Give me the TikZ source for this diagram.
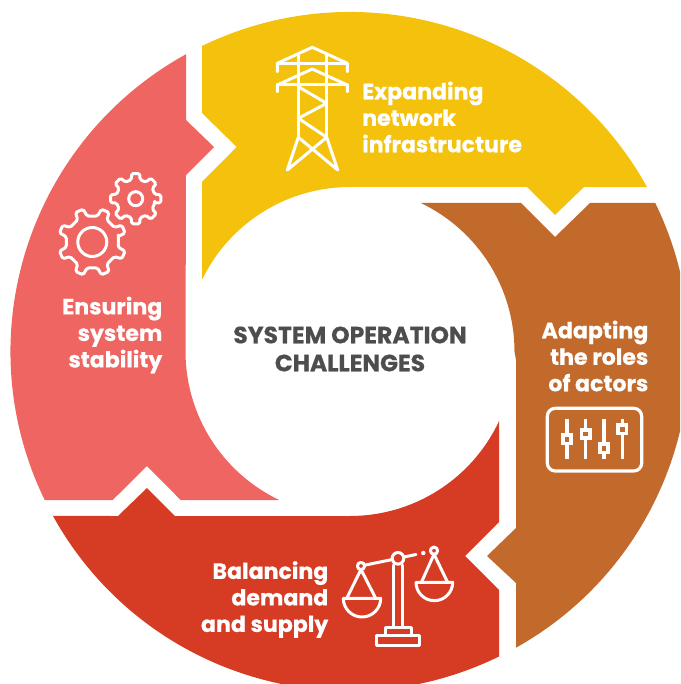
\documentclass[tikz,border=0pt]{standalone}
\usepackage{fontspec}
\setmainfont{Poppins}[BoldFeatures={FakeBold=0.5}]
\definecolor{cyellow}{HTML}{F4C20D}
\definecolor{corange}{HTML}{C26A2C}
\definecolor{cred}{HTML}{D63B24}
\definecolor{cpink}{HTML}{EE6561}
\definecolor{cgray}{HTML}{4D4D4F}
\newcommand{\gearicon}[7]{% cx cy rout rroot n offset halfangle
  \draw[icon,rounded corners=1.6pt] ([shift={(#1,#2)}]#6-#7-4:#4pt)
    \foreach \i in {1,...,#5}{
      -- ([shift={(#1,#2)}]#6+\i*360/#5-360/#5-#7-4:#4pt)
      -- ([shift={(#1,#2)}]#6+\i*360/#5-360/#5-#7:#3pt)
      -- ([shift={(#1,#2)}]#6+\i*360/#5-360/#5+#7:#3pt)
      -- ([shift={(#1,#2)}]#6+\i*360/#5-360/#5+#7+4:#4pt)
    } -- cycle;
}
\begin{document}
\begin{tikzpicture}[x=1pt,y=-1pt,
  icon/.style={draw=white,line width=3pt,line join=round,line cap=round},
  seglabel/.style={text=white,font=\fontsize{22.1}{26.5}\selectfont\bfseries,inner sep=0pt},
  centerlabel/.style={text=cgray,font=\fontsize{23.5}{28}\selectfont\bfseries,inner sep=0pt,align=center}]
\useasboundingbox (0,0) rectangle (680,684);
\clip (0,0) rectangle (680,684);
\coordinate (c) at (350,351.5);
% segments
\fill[cyellow] ([shift={(115.84:339.5pt)}]c) arc[start angle=115.84,end angle=28.98,radius=339.5pt]
  -- (584,187) -- (555,215) -- (527,187) -- (350,187)
  arc[start angle=90,end angle=154.12,radius=164.5pt]
  -- (202,182) -- (236.7,147) -- (202,113) -- cycle;
\fill[corange] (655.3,203) -- (590,203) -- (555,237) -- (521,203) -- (420.8,203)
  arc[start angle=64.5,end angle=0,radius=164.5pt]
  -- (516,360) -- (516,528) -- (487,556) -- (516,583) -- (516,647.7)
  arc[start angle=-60.73,end angle=25.94,radius=339.5pt] -- cycle;
\fill[cred] (499,421.2) -- (499,522) -- (465,556) -- (499,590) -- (499,656.5)
  arc[start angle=-63.96,end angle=-151.02,radius=339.5pt]
  -- (118,516) -- (147,488) -- (175,516) -- (350,516)
  arc[start angle=-90,end angle=-25.07,radius=164.5pt] -- cycle;
\fill[cpink] (279.2,500) -- (180.7,500) -- (147,466) -- (112.7,500) -- (44.7,500)
  arc[start angle=205.94,end angle=118.88,radius=339.5pt]
  -- (186,120) -- (214,147) -- (186,175) -- (185.5,351.5)
  arc[start angle=180,end angle=244.5,radius=164.5pt] -- cycle;
% labels
\node[seglabel,anchor=west,align=left] (expanding) at (362,117) {Expanding\\network\\infrastructure};
\node[seglabel,anchor=east,align=right] (adapting) at (648.5,356) {Adapting\\the roles\\of actors};
\node[seglabel,anchor=east,align=right] (balancing) at (328.5,599.5) {Balancing\\demand\\and supply};
\node[seglabel,anchor=east,align=right] (ensuring) at (162.5,335) {Ensuring\\system\\stability};
\node[centerlabel] (title) at (350,349) {SYSTEM OPERATION\\CHALLENGES};
% tower
\draw[icon] (277.3,71.7) -- (277.3,63.3) -- (312.3,47.3) -- (347.3,63.3) -- (347.3,71.7);
\draw[icon] (277.3,63.3) -- (347.3,63.3);
\draw[icon] (277.3,91.7) -- (277.3,85) -- (312.3,69) -- (347.3,85) -- (347.3,91.7);
\draw[icon] (277.3,85) -- (347.3,85);
\draw[icon] (298.3,55) -- (298.3,137.3) (326.7,55) -- (326.7,137.3);
\draw[icon] (298.3,86.7) -- (326.7,103.3) -- (298.3,118.3) -- (326.7,137.3);
\draw[icon] (287.3,170) -- (298.3,137.3) -- (337.7,170) -- (326.7,137.3) -- (287.3,170);
% gears
\gearicon{92.3}{242}{34}{26.5}{8}{22.5}{7}
\draw[icon] (92.3,242) circle[radius=14.5pt];
\gearicon{135.7}{198.7}{25.5}{19.5}{8}{0}{9}
\draw[icon] (135.7,198.7) circle[radius=7pt];
% scale
\draw[icon] (398,558.3) circle[radius=5.8pt];
\draw[icon] (361,566) circle[radius=3.6pt];
\draw[icon] (434,550.7) circle[radius=3.6pt];
\draw[icon] (364.5,565.2) -- (392.3,559.5) (403.8,557) -- (416,554.5);
\fill[white] (423.3,553) circle[radius=2.2pt];
\draw[icon] (393.3,565) -- (393.3,627.3) (402.3,565) -- (402.3,627.3);
\draw[icon] (385,635) -- (385,627.3) -- (411,627.3) -- (411,635);
\draw[icon] (376.7,635) rectangle (419.3,645);
\draw[icon] (361,569.5) -- (346.7,598.3) (361,569.5) -- (375.7,598.3);
\draw[icon] (343.3,598.3) -- (380.7,598.3) arc[start angle=0,end angle=-180,radius=18.7pt];
\draw[icon] (434,554.2) -- (421.7,581.7) (434,554.2) -- (447.3,581.7);
\draw[icon] (416,582.3) -- (452.7,582.3) arc[start angle=0,end angle=-180,radius=18.35pt];
% sliders
\draw[icon,line width=3.2pt,rounded corners=8pt] (547.3,408.3) rectangle (641.7,471);
\foreach \sx/\sy in {567/439.3,585.7/434,604/448.3,622.3/429.3}{
  \draw[icon,line width=3.4pt,line cap=butt] (\sx,419) -- (\sx,459);
  \filldraw[draw=white,fill=corange,line width=3.8pt] (\sx-4.2,\sy-4.2) rectangle (\sx+4.2,\sy+4.2);
}
\end{tikzpicture}
\end{document}
